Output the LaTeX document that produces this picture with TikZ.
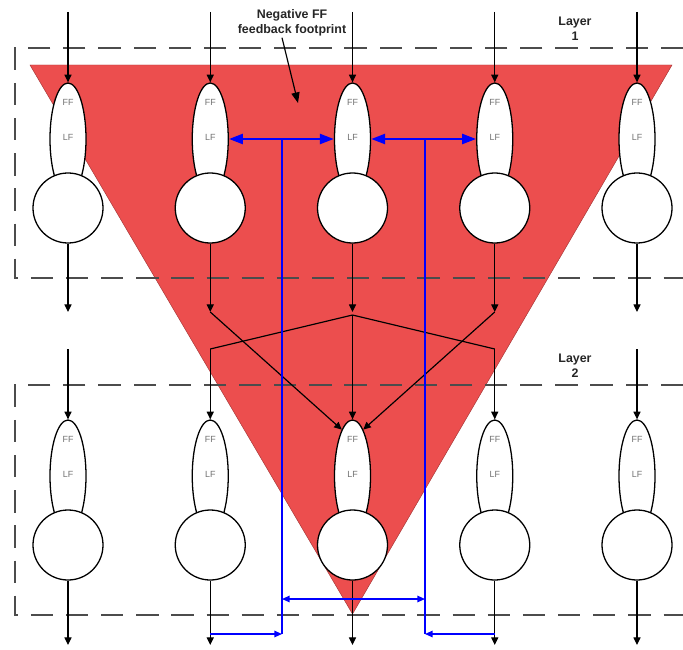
\documentclass[tikz,border=0pt]{standalone}
\usepackage{fontspec}
\setmainfont{Liberation Sans}
\usetikzlibrary{arrows.meta, shapes.geometric}

\definecolor{footred}{RGB}{236,78,78}
\definecolor{fbblue}{RGB}{0,0,255}

\begin{document}
\begin{tikzpicture}[
  x=0.03cm, y=-0.03cm,
  bulb/.style  ={draw, ellipse, fill=white, line width=1.1pt, inner sep=0pt,
                 minimum width=1.08cm, minimum height=3.36cm},
  soma/.style  ={draw, circle, fill=white, line width=1.1pt, inner sep=0pt,
                 minimum size=2.1cm},
  tag/.style   ={font=\fontsize{7.6}{9}\selectfont, text=black!55, inner sep=0pt},
  title/.style ={font=\fontsize{10.6}{12.8}\selectfont\bfseries, align=center,
                 text=black!85, inner sep=1pt},
  lbox/.style  ={draw=black!70, line width=1.2pt, dash pattern=on 19pt off 11pt},
  arr/.style   ={-{Triangle[length=6.5pt,width=6pt]}, line width=1pt},
  wire/.style  ={line width=1pt},
  fb/.style    ={fbblue, line width=2.2pt,
                 {Triangle[length=12pt,width=8.5pt]}-{Triangle[length=12pt,width=8.5pt]}},
  fbw/.style   ={fbblue, line width=2.2pt},
  fbt/.style   ={fbblue, line width=1.2pt},
  ftip/.style  ={-{Triangle[length=6.5pt,width=5.5pt]}},
]
\useasboundingbox (0,0) rectangle (683,649);

%% ---- Footprint ----
\path[fill=footred, draw=footred!70!black, line width=0.4pt]
  (30,65) -- (672,65) -- (352.5,614) -- cycle;

%% ---- Layer boxes ----
\draw[lbox] (683,48) -- (15,48) -- (15,278) -- (683,278);
\draw[lbox] (683,385) -- (15,385) -- (15,615) -- (683,615);
\node[title] (lay1) at (575,29)  {Layer\\1};
\node[title] (lay2) at (575,366) {Layer\\2};

%% ---- Neurons ----
\foreach \c in {1,...,5} {
  \pgfmathsetmacro\x{68+142.25*(\c-1)}
  \foreach \l/\y/\e in {1/0/312, 2/337/645} {
    \coordinate (in\l\c)  at (\x,12+\y);
    \coordinate (out\l\c) at (\x,\e);
    \node[bulb] (d\l\c) at (\x,139+\y) {};
    \node[soma] (s\l\c) at (\x,208+\y) {};
    \node[tag] (ff\l\c) at (\x,102+\y) {FF};
    \node[tag] (lf\l\c) at (\x,137+\y) {LF};
    \draw[arr] (in\l\c) -- (d\l\c);
    \draw[arr] (s\l\c) -- (out\l\c);
  }
}

%% ---- Feed-forward wiring ----
\coordinate (hub) at (352.5,315);
\draw[wire] (hub) -- (in22);
\draw[wire] (hub) -- (in23);
\draw[wire] (hub) -- (in24);
\draw[arr] (out12) -- (d23.103);
\draw[arr] (out14) -- (d23.77);

%% ---- Lateral feedback ----
\coordinate (fbL)  at (282,139);
\coordinate (fbR)  at (425,139);
\coordinate (fbLm) at (282,599);
\coordinate (fbRm) at (425,599);
\coordinate (fbLb) at (282,634);
\coordinate (fbRb) at (425,634);
\draw[fb] (d12.east) -- (d13.west);
\draw[fb] (d13.east) -- (d14.west);
\draw[fbw] (fbL) -- (fbLb);
\draw[fbw] (fbR) -- (fbRb);
\draw[fbt, ftip] (s22 |- fbLb) -- (fbLb);
\draw[fbt, ftip] (s24 |- fbRb) -- (fbRb);
\draw[fbt, {Triangle[length=6.5pt,width=5.5pt]}-{Triangle[length=6.5pt,width=5.5pt]}] (fbLm) -- (fbRm);

%% ---- Footprint label ----
\node[title] (fp) at (292,23) {Negative FF\\feedback footprint};
\coordinate (fptip) at (298,103);
\draw[line width=1pt, -{Triangle[length=9pt,width=7pt]}] ([xshift=-0.3cm]fp.south) -- (fptip);

\end{tikzpicture}
\end{document}
